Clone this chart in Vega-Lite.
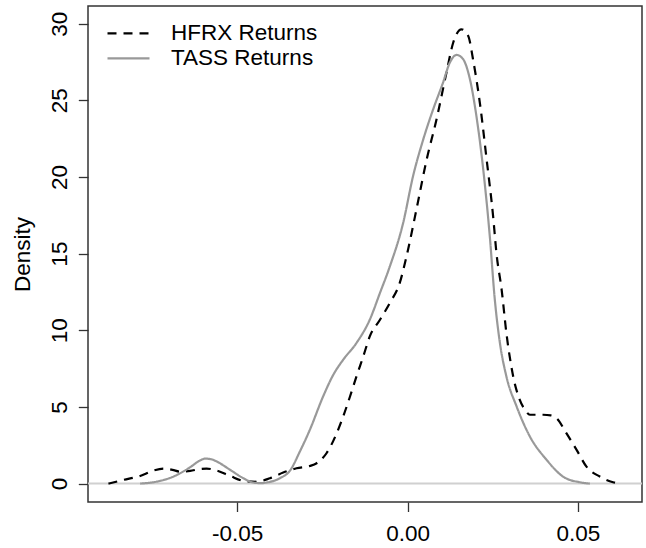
{
  "$schema": "https://vega.github.io/schema/vega-lite/v6.json",
  "width": 554,
  "height": 496,
  "autosize": {"type": "none"},
  "padding": {"left": 88, "top": 6, "right": 4, "bottom": 46},
  "background": "white",
  "config": {
    "font": "Liberation Sans",
    "view": {"stroke": "#333333", "strokeWidth": 1.5},
    "axis": {"grid": false, "domain": false, "tickColor": "#333333", "tickWidth": 1.3, "labelColor": "black", "labelFont": "Liberation Sans", "labelFontSize": 22.5, "titleFont": "Liberation Sans", "titleFontSize": 22.5, "titleFontWeight": "normal", "titleColor": "black"}
  },
  "datasets": {
    "curves": [
      {"x": -0.0878, "d": 0, "series": "HFRX Returns"},
      {"x": -0.0834, "d": 0.24, "series": "HFRX Returns"},
      {"x": -0.0785, "d": 0.50, "series": "HFRX Returns"},
      {"x": -0.0746, "d": 0.85, "series": "HFRX Returns"},
      {"x": -0.0715, "d": 0.98, "series": "HFRX Returns"},
      {"x": -0.0690, "d": 0.90, "series": "HFRX Returns"},
      {"x": -0.0668, "d": 0.78, "series": "HFRX Returns"},
      {"x": -0.0638, "d": 0.83, "series": "HFRX Returns"},
      {"x": -0.0610, "d": 0.95, "series": "HFRX Returns"},
      {"x": -0.0590, "d": 0.98, "series": "HFRX Returns"},
      {"x": -0.0560, "d": 0.85, "series": "HFRX Returns"},
      {"x": -0.0521, "d": 0.50, "series": "HFRX Returns"},
      {"x": -0.0482, "d": 0.18, "series": "HFRX Returns"},
      {"x": -0.0443, "d": 0.12, "series": "HFRX Returns"},
      {"x": -0.0404, "d": 0.35, "series": "HFRX Returns"},
      {"x": -0.0365, "d": 0.72, "series": "HFRX Returns"},
      {"x": -0.0326, "d": 1.00, "series": "HFRX Returns"},
      {"x": -0.0287, "d": 1.15, "series": "HFRX Returns"},
      {"x": -0.0267, "d": 1.33, "series": "HFRX Returns"},
      {"x": -0.0238, "d": 1.98, "series": "HFRX Returns"},
      {"x": -0.0208, "d": 3.29, "series": "HFRX Returns"},
      {"x": -0.0189, "d": 4.38, "series": "HFRX Returns"},
      {"x": -0.0169, "d": 5.68, "series": "HFRX Returns"},
      {"x": -0.0150, "d": 6.99, "series": "HFRX Returns"},
      {"x": -0.0130, "d": 8.30, "series": "HFRX Returns"},
      {"x": -0.0111, "d": 9.60, "series": "HFRX Returns"},
      {"x": -0.0081, "d": 10.69, "series": "HFRX Returns"},
      {"x": -0.0052, "d": 11.78, "series": "HFRX Returns"},
      {"x": -0.0023, "d": 13.09, "series": "HFRX Returns"},
      {"x": -0.0003, "d": 14.83, "series": "HFRX Returns"},
      {"x": 0.0026, "d": 17.88, "series": "HFRX Returns"},
      {"x": 0.0056, "d": 21.14, "series": "HFRX Returns"},
      {"x": 0.0085, "d": 23.76, "series": "HFRX Returns"},
      {"x": 0.0114, "d": 26.8, "series": "HFRX Returns"},
      {"x": 0.0134, "d": 28.77, "series": "HFRX Returns"},
      {"x": 0.0158, "d": 29.63, "series": "HFRX Returns"},
      {"x": 0.0178, "d": 29.2, "series": "HFRX Returns"},
      {"x": 0.0192, "d": 27.68, "series": "HFRX Returns"},
      {"x": 0.0212, "d": 24.85, "series": "HFRX Returns"},
      {"x": 0.0232, "d": 21.14, "series": "HFRX Returns"},
      {"x": 0.0251, "d": 17.44, "series": "HFRX Returns"},
      {"x": 0.0261, "d": 15.0, "series": "HFRX Returns"},
      {"x": 0.0276, "d": 12.65, "series": "HFRX Returns"},
      {"x": 0.0290, "d": 9.82, "series": "HFRX Returns"},
      {"x": 0.0310, "d": 6.99, "series": "HFRX Returns"},
      {"x": 0.0329, "d": 5.47, "series": "HFRX Returns"},
      {"x": 0.0345, "d": 4.8, "series": "HFRX Returns"},
      {"x": 0.0359, "d": 4.49, "series": "HFRX Returns"},
      {"x": 0.0398, "d": 4.49, "series": "HFRX Returns"},
      {"x": 0.0420, "d": 4.45, "series": "HFRX Returns"},
      {"x": 0.0437, "d": 4.27, "series": "HFRX Returns"},
      {"x": 0.0466, "d": 3.29, "series": "HFRX Returns"},
      {"x": 0.0496, "d": 2.20, "series": "HFRX Returns"},
      {"x": 0.0525, "d": 1.11, "series": "HFRX Returns"},
      {"x": 0.0564, "d": 0.46, "series": "HFRX Returns"},
      {"x": 0.0603, "d": 0.09, "series": "HFRX Returns"},
      {"x": 0.0628, "d": 0, "series": "HFRX Returns"},
      {"x": -0.0785, "d": 0, "series": "TASS Returns"},
      {"x": -0.0736, "d": 0.13, "series": "TASS Returns"},
      {"x": -0.0687, "d": 0.46, "series": "TASS Returns"},
      {"x": -0.0638, "d": 1.07, "series": "TASS Returns"},
      {"x": -0.0610, "d": 1.50, "series": "TASS Returns"},
      {"x": -0.0594, "d": 1.63, "series": "TASS Returns"},
      {"x": -0.0575, "d": 1.58, "series": "TASS Returns"},
      {"x": -0.0560, "d": 1.44, "series": "TASS Returns"},
      {"x": -0.0521, "d": 0.90, "series": "TASS Returns"},
      {"x": -0.0482, "d": 0.35, "series": "TASS Returns"},
      {"x": -0.0453, "d": 0.07, "series": "TASS Returns"},
      {"x": -0.0430, "d": 0.03, "series": "TASS Returns"},
      {"x": -0.0414, "d": 0.07, "series": "TASS Returns"},
      {"x": -0.0375, "d": 0.35, "series": "TASS Returns"},
      {"x": -0.0345, "d": 0.85, "series": "TASS Returns"},
      {"x": -0.0316, "d": 2.1, "series": "TASS Returns"},
      {"x": -0.0287, "d": 3.5, "series": "TASS Returns"},
      {"x": -0.0248, "d": 5.68, "series": "TASS Returns"},
      {"x": -0.0218, "d": 7.10, "series": "TASS Returns"},
      {"x": -0.0189, "d": 8.08, "series": "TASS Returns"},
      {"x": -0.0150, "d": 9.17, "series": "TASS Returns"},
      {"x": -0.0111, "d": 10.69, "series": "TASS Returns"},
      {"x": -0.0081, "d": 12.44, "series": "TASS Returns"},
      {"x": -0.0052, "d": 14.17, "series": "TASS Returns"},
      {"x": -0.0013, "d": 17.0, "series": "TASS Returns"},
      {"x": 0.0016, "d": 20.05, "series": "TASS Returns"},
      {"x": 0.0046, "d": 22.45, "series": "TASS Returns"},
      {"x": 0.0075, "d": 24.41, "series": "TASS Returns"},
      {"x": 0.0104, "d": 26.15, "series": "TASS Returns"},
      {"x": 0.0124, "d": 27.46, "series": "TASS Returns"},
      {"x": 0.0144, "d": 27.96, "series": "TASS Returns"},
      {"x": 0.0163, "d": 27.68, "series": "TASS Returns"},
      {"x": 0.0183, "d": 26.37, "series": "TASS Returns"},
      {"x": 0.0202, "d": 23.97, "series": "TASS Returns"},
      {"x": 0.0222, "d": 20.49, "series": "TASS Returns"},
      {"x": 0.0241, "d": 16.2, "series": "TASS Returns"},
      {"x": 0.0256, "d": 12.0, "series": "TASS Returns"},
      {"x": 0.0271, "d": 9.17, "series": "TASS Returns"},
      {"x": 0.0290, "d": 6.99, "series": "TASS Returns"},
      {"x": 0.0320, "d": 5.03, "series": "TASS Returns"},
      {"x": 0.0359, "d": 3.07, "series": "TASS Returns"},
      {"x": 0.0408, "d": 1.55, "series": "TASS Returns"},
      {"x": 0.0456, "d": 0.46, "series": "TASS Returns"},
      {"x": 0.0505, "d": 0.09, "series": "TASS Returns"},
      {"x": 0.0535, "d": 0, "series": "TASS Returns"}
    ]
  },
  "layer": [
    {
      "data": {"values": [{"y": 0}]},
      "mark": {"type": "rule", "color": "#d0d0d0", "strokeWidth": 2},
      "encoding": {"y": {"field": "y", "type": "quantitative", "scale": {"domain": [-1.2, 31.15], "nice": false, "zero": false}}}
    },
    {
      "data": {"name": "curves"},
      "mark": {"type": "line", "strokeWidth": 2.2, "interpolate": "monotone"},
      "encoding": {
        "x": {
          "field": "x", "type": "quantitative",
          "scale": {"domain": [-0.0938, 0.0688], "nice": false, "zero": false},
          "axis": {"title": null, "values": [-0.05, 0, 0.05], "tickSize": 9.5, "labelPadding": 28.5, "labelBaseline": "alphabetic",
                   "labelExpr": "datum.value < 0 ? '-' + format(-datum.value, '.2f') : format(datum.value, '.2f')"}
        },
        "y": {
          "field": "d", "type": "quantitative",
          "scale": {"domain": [-1.2, 31.15], "nice": false, "zero": false},
          "axis": {"title": "Density", "values": [0, 5, 10, 15, 20, 25, 30], "tickSize": 9.7, "labelPadding": 11.6,
                   "labelAngle": -90, "labelAlign": "center", "labelBaseline": "alphabetic",
                   "titleAngle": -90, "titleX": -58.5, "titleY": 248, "titleAlign": "center", "titleBaseline": "alphabetic"}
        },
        "color": {
          "field": "series", "type": "nominal",
          "scale": {"domain": ["HFRX Returns", "TASS Returns"], "range": ["#000000", "#999999"]},
          "legend": {"title": null, "orient": "none", "legendX": 18, "legendY": 16.1, "symbolType": "stroke", "symbolSize": 1764, "symbolStrokeWidth": 2.2, "labelFontSize": 22.5, "labelFont": "Liberation Sans", "labelColor": "black", "labelOffset": 20, "clipHeight": 22.4, "rowPadding": 2, "padding": 0}
        },
        "strokeDash": {
          "field": "series", "type": "nominal",
          "scale": {"domain": ["HFRX Returns", "TASS Returns"], "range": [[9, 7], [1, 0]]},
          "legend": {"title": null, "orient": "none", "legendX": 18, "legendY": 16.1, "symbolType": "stroke", "symbolSize": 1764, "symbolStrokeWidth": 2.2, "labelFontSize": 22.5, "labelFont": "Liberation Sans", "labelColor": "black", "labelOffset": 20, "clipHeight": 22.4, "rowPadding": 2, "padding": 0}
        }
      }
    }
  ]
}
